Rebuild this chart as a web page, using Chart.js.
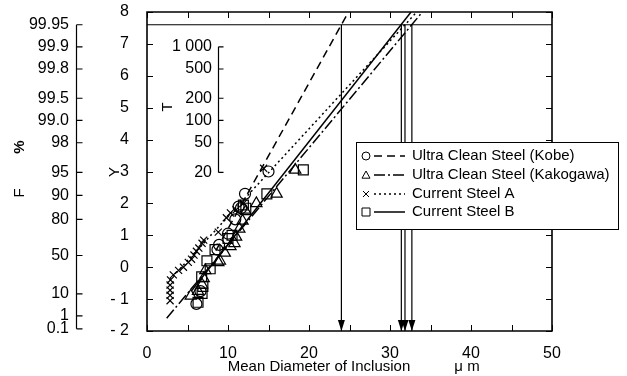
<!DOCTYPE html>
<html>
<head>
<meta charset="utf-8">
<script src="https://cdn.jsdelivr.net/npm/chart.js@4.4.0/dist/chart.umd.min.js"></script>
<style>
  html, body { margin: 0; padding: 0; background: #fff; }
</style>
</head>
<body>
<canvas id="c" width="627" height="376"></canvas>
<script>
// measured points (mean diameter µm, reduced variate Y)
const kobeX = [6.1, 6.6, 8.7, 8.9, 10.0, 10.9, 11.3, 11.6, 12.1, 15.0];
const kobeY = [-1.15, -0.75, 0.55, 0.7, 1.05, 1.5, 1.9, 1.85, 2.3, 3.0];
const kakoX = [5.4, 6.3, 6.8, 7.0, 7.2, 8.8, 9.0, 9.6, 10.3, 10.8, 11.0, 11.4, 11.8, 12.2, 13.5, 16.0, 18.3];
const kakoY = [-0.9, -0.75, -0.55, -0.35, -0.1, 0.15, 0.2, 0.45, 0.65, 0.75, 0.95, 1.2, 1.45, 1.75, 2.0, 2.3, 3.05];
const steelAX = [2.85, 2.85, 2.85, 2.85, 2.9, 3.25, 3.9, 4.5, 5.1, 5.5, 5.8, 6.1, 6.4, 6.8, 7.0, 8.8, 9.8, 10.3, 11.0, 11.9, 14.4];
const steelAY = [-1.05, -0.88, -0.72, -0.56, -0.4, -0.24, -0.1, 0.0, 0.15, 0.25, 0.38, 0.5, 0.6, 0.75, 0.85, 1.1, 1.55, 1.7, 1.8, 2.0, 3.1];
const steelBX = [6.3, 6.8, 6.9, 6.75, 7.4, 7.8, 8.4, 10.0, 10.5, 11.9, 12.2, 14.8, 19.3];
const steelBY = [-1.1, -0.82, -0.6, -0.3, 0.2, -0.05, 0.55, 0.9, 1.0, 1.95, 1.85, 2.3, 3.05];

// fitted lines (end points)
const kobeFitX = [8.5, 24.875];
const kobeFitY = [0.52, 8.0];
const kakoFitX = [2.43, 34.0];
const kakoFitY = [-1.6, 8.0];
const steelAFitX = [2.8, 33.3];
const steelAFitY = [-0.4, 8.0];
const steelBFitX = [5.5, 32.6];
const steelBFitY = [-0.74, 8.0];

// estimation level and predicted maximum diameters
const levelY = 7.6;
const arrowX = [24.0, 31.4, 31.85, 32.7];

// secondary scales
const fValues = [0.1, 1, 10, 50, 80, 90, 95, 98, 99.0, 99.5, 99.8, 99.9, 99.95];
const fLabels = ['0.1', '1', '10', '50', '80', '90', '95', '98', '99.0', '99.5', '99.8', '99.9', '99.95'];
const tValues = [20, 50, 100, 200, 500, 1000];
const tLabels = ['20', '50', '100', '200', '500', '1 000'];

const seriesNames = ['Ultra Clean Steel (Kobe)', 'Ultra Clean Steel (Kakogawa)', 'Current Steel A', 'Current Steel B'];

const gumbel = p => -Math.log(-Math.log(p));
const pts = (xs, ys) => xs.map((x, i) => ({ x: x, y: ys[i] }));

const styles = [
  { point: 'circle', radius: 5.5, dash: [8, 5] },
  { point: 'triangle', radius: 6.5, dash: [11, 3, 2, 3] },
  { point: 'crossRot', radius: 5, dash: [2, 3] },
  { point: 'rect', radius: 7, dash: [] }
];

const FONT = '16px "Liberation Sans", Arial, sans-serif';
const FONT_S = '15px "Liberation Sans", Arial, sans-serif';

function markerDataset(data, st) {
  return {
    type: 'scatter', data: data, showLine: false,
    pointStyle: st.point, pointRadius: st.radius, pointHoverRadius: st.radius,
    borderColor: '#000', backgroundColor: 'rgba(0,0,0,0)', pointBorderWidth: 1.2
  };
}
function lineDataset(data, dash, width) {
  return {
    type: 'line', data: data, showLine: true, pointRadius: 0, fill: false,
    borderColor: '#000', borderWidth: width || 1.5, borderDash: dash, tension: 0
  };
}

const datasets = [
  markerDataset(pts(kobeX, kobeY), styles[0]),
  markerDataset(pts(kakoX, kakoY), styles[1]),
  markerDataset(pts(steelAX, steelAY), styles[2]),
  markerDataset(pts(steelBX, steelBY), styles[3]),
  lineDataset(pts(kobeFitX, kobeFitY), styles[0].dash),
  lineDataset(pts(kakoFitX, kakoFitY), styles[1].dash),
  lineDataset(pts(steelAFitX, steelAFitY), styles[2].dash),
  lineDataset(pts(steelBFitX, steelBFitY), styles[3].dash),
  lineDataset([{ x: 0, y: levelY }, { x: 50, y: levelY }], [], 1.2)
];
arrowX.forEach(x => datasets.push(lineDataset([{ x: x, y: levelY }, { x: x, y: -2 }], [], 1.2)));

function drawMarker(ctx, type, x, y, r) {
  ctx.beginPath();
  if (type === 'circle') {
    ctx.arc(x, y, r, 0, Math.PI * 2);
  } else if (type === 'triangle') {
    ctx.moveTo(x, y - r); ctx.lineTo(x + r, y + r * 0.8); ctx.lineTo(x - r, y + r * 0.8); ctx.closePath();
  } else if (type === 'crossRot') {
    ctx.moveTo(x - r, y - r); ctx.lineTo(x + r, y + r);
    ctx.moveTo(x + r, y - r); ctx.lineTo(x - r, y + r);
  } else {
    ctx.rect(x - r, y - r, 2 * r, 2 * r);
  }
  ctx.stroke();
}

function vText(ctx, s, x, y, font) {
  ctx.save();
  ctx.translate(x, y);
  ctx.rotate(-Math.PI / 2);
  ctx.font = font;
  ctx.textAlign = 'center';
  ctx.textBaseline = 'middle';
  ctx.fillText(s, 0, 0);
  ctx.restore();
}

const decor = {
  id: 'decor',
  afterDraw(chart) {
    const ctx = chart.ctx;
    const xs = chart.scales.x, ys = chart.scales.y;
    const a = chart.chartArea;
    ctx.save();
    ctx.strokeStyle = '#000';
    ctx.fillStyle = '#000';
    ctx.setLineDash([]);

    // arrow heads
    arrowX.forEach(v => {
      const px = xs.getPixelForValue(v), py = ys.getPixelForValue(-2);
      ctx.beginPath();
      ctx.moveTo(px, py); ctx.lineTo(px - 3.5, py - 11); ctx.lineTo(px + 3.5, py - 11); ctx.closePath();
      ctx.fill();
    });

    // frame with inward ticks
    const L = Math.round(a.left), R = Math.round(a.right), T = Math.round(a.top), B = Math.round(a.bottom);
    ctx.lineWidth = 1.6;
    ctx.beginPath();
    ctx.moveTo(L, T); ctx.lineTo(R, T); ctx.lineTo(R, B); ctx.lineTo(L, B); ctx.closePath();
    ctx.stroke();
    ctx.lineWidth = 1;
    ctx.beginPath();
    for (let v = -2; v <= 8; v++) {
      const py = Math.round(ys.getPixelForValue(v)) + 0.5;
      ctx.moveTo(L, py); ctx.lineTo(L + 6, py);
      ctx.moveTo(R, py); ctx.lineTo(R - 6, py);
    }
    for (let v = 0; v <= 50; v += 5) {
      const px = Math.round(xs.getPixelForValue(v)) + 0.5;
      ctx.moveTo(px, T); ctx.lineTo(px, T + 6);
      ctx.moveTo(px, B); ctx.lineTo(px, B - 6);
    }
    ctx.stroke();

    // F (%) probability axis
    ctx.lineWidth = 1.2;
    const fx = 76.5;
    const fTop = ys.getPixelForValue(gumbel(fValues[fValues.length - 1] / 100));
    const fBot = ys.getPixelForValue(gumbel(fValues[0] / 100));
    ctx.beginPath();
    ctx.moveTo(fx, fTop); ctx.lineTo(fx, fBot);
    ctx.font = FONT;
    ctx.textAlign = 'right';
    ctx.textBaseline = 'middle';
    fValues.forEach((f, i) => {
      const py = ys.getPixelForValue(gumbel(f / 100));
      ctx.moveTo(fx, py); ctx.lineTo(fx + 6, py);
      ctx.fillText(fLabels[i], 69, py);
    });
    ctx.stroke();

    // T return period axis
    const tx = 218.5;
    ctx.beginPath();
    const tTop = ys.getPixelForValue(gumbel(1 - 1 / tValues[tValues.length - 1]));
    const tBot = ys.getPixelForValue(gumbel(1 - 1 / tValues[0]));
    ctx.moveTo(tx, tTop); ctx.lineTo(tx, tBot);
    tValues.forEach((t, i) => {
      const py = ys.getPixelForValue(gumbel(1 - 1 / t));
      ctx.moveTo(tx, py); ctx.lineTo(tx + 5, py);
      ctx.fillText(tLabels[i], 212, py);
    });
    ctx.stroke();

    // axis titles
    vText(ctx, 'Y', 115, 172, FONT_S);
    vText(ctx, 'T', 168, 107, FONT_S);
    vText(ctx, 'F', 20, 193, FONT_S);
    vText(ctx, '%', 20, 147, 'bold 15px "Liberation Sans", Arial, sans-serif');
    ctx.font = FONT_S;
    ctx.textAlign = 'center';
    ctx.textBaseline = 'middle';
    ctx.fillText('Mean Diameter of Inclusion', 319, 367);
    ctx.fillText('\u03bc m', 467, 367);

    // legend
    const lx = 356.5, ly = 142.5, lw = 262, lh = 87;
    ctx.fillStyle = '#fff';
    ctx.fillRect(lx, ly, lw, lh);
    ctx.strokeStyle = '#000';
    ctx.lineWidth = 1;
    ctx.strokeRect(lx, ly, lw, lh);
    ctx.fillStyle = '#000';
    ctx.textAlign = 'left';
    const rowY = [156, 175, 194, 212];
    seriesNames.forEach((name, i) => {
      const y = rowY[i];
      ctx.lineWidth = 1;
      ctx.setLineDash([]);
      const r = styles[i].point === 'crossRot' ? 3 : 4;
      drawMarker(ctx, styles[i].point, 366, y, r);
      ctx.lineWidth = 1.5;
      ctx.setLineDash(styles[i].dash);
      ctx.beginPath();
      ctx.moveTo(374, y); ctx.lineTo(405, y);
      ctx.stroke();
      ctx.setLineDash([]);
      ctx.fillText(name, 412, y);
    });
    ctx.restore();
  }
};

new Chart(document.getElementById('c').getContext('2d'), {
  data: { datasets: datasets },
  options: {
    responsive: false,
    animation: false,
    events: [],
    layout: { padding: { left: 100, right: 75, top: 12, bottom: 0 } },
    plugins: { legend: { display: false }, tooltip: { enabled: false } },
    scales: {
      x: {
        type: 'linear', min: 0, max: 50,
        grid: { display: false }, border: { display: false },
        ticks: { stepSize: 10, color: '#000', font: { family: '"Liberation Sans", Arial, sans-serif', size: 16 }, padding: 5, maxRotation: 0 },
        afterFit: s => { s.height = 45; s.paddingLeft = 0; s.paddingRight = 0; }
      },
      y: {
        type: 'linear', min: -2, max: 8,
        grid: { display: false }, border: { display: false },
        ticks: {
          stepSize: 1, color: '#000', padding: 10,
          font: { family: '"Liberation Sans", Arial, sans-serif', size: 16 },
          callback: v => v < 0 ? '- ' + Math.abs(v) : String(v)
        },
        afterFit: s => { s.width = 47; s.paddingTop = 0; s.paddingBottom = 0; }
      }
    }
  },
  plugins: [decor]
});
</script>
</body>
</html>
